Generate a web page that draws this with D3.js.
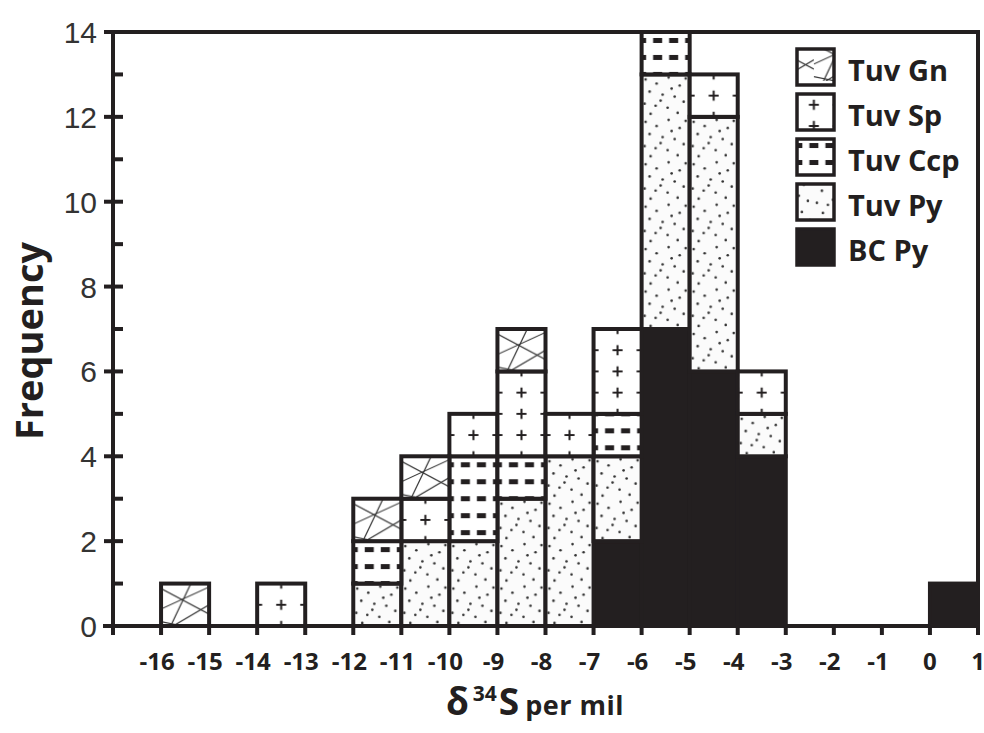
<!DOCTYPE html>
<meta charset="utf-8">
<style>
body { margin: 0; background: #fff; }
.lbl { font-family: "Open Sans", sans-serif; font-weight: 700; fill: #231f20; }
.ytick { font-family: "Liberation Sans", Arial, sans-serif; fill: #333; }
</style>
<body>
<script src="https://d3js.org/d3.v7.min.js"></script>
<script>

// bins start at these values (bin = [b, b+1])
var bins = [-16, -15, -14, -13, -12, -11, -10, -9, -8, -7, -6, -5, -4, -3, -2, -1, 0];
// counts per bin, stacked bottom to top
var bcPy   = [0, 0, 0, 0, 0, 0, 0, 0, 0, 2, 7, 6, 4, 0, 0, 0, 1];
var tuvPy  = [0, 0, 0, 0, 1, 2, 2, 3, 4, 2, 6, 6, 1, 0, 0, 0, 0];
var tuvCcp = [0, 0, 0, 0, 1, 0, 2, 1, 0, 1, 1, 0, 0, 0, 0, 0, 0];
var tuvSp  = [0, 0, 1, 0, 0, 1, 1, 2, 1, 2, 0, 1, 1, 0, 0, 0, 0];
var tuvGn  = [1, 0, 0, 0, 1, 1, 0, 1, 0, 0, 0, 0, 0, 0, 0, 0, 0];

var keys = ["BC Py", "Tuv Py", "Tuv Ccp", "Tuv Sp", "Tuv Gn"];
var legendOrder = ["Tuv Gn", "Tuv Sp", "Tuv Ccp", "Tuv Py", "BC Py"];
var xTicks = d3.range(-17, 2);
var xLabels = d3.range(-16, 2);
var yLabels = [0, 2, 4, 6, 8, 10, 12, 14];

var table = bins.map(function(b, i) {
  return {bin: b, "BC Py": bcPy[i], "Tuv Py": tuvPy[i], "Tuv Ccp": tuvCcp[i], "Tuv Sp": tuvSp[i], "Tuv Gn": tuvGn[i]};
});

var W = 984, H = 733, ink = "#231f20";
var x = d3.scaleLinear().domain([-17, 1]).range([113, 978]);
var y = d3.scaleLinear().domain([0, 14]).range([626, 32]);
var bw = x(1) - x(0), uh = y(0) - y(1);

var svg = d3.select("body").append("svg").attr("width", W).attr("height", H);
var defs = svg.append("defs");

// hatch patterns
var pGn = defs.append("pattern").attr("id", "gn").attr("patternUnits", "userSpaceOnUse")
  .attr("x", x(-17)).attr("y", y(0)).attr("width", bw).attr("height", uh);
pGn.append("rect").attr("width", bw).attr("height", uh).attr("fill", "#fff");
[[0, 0.12, 1, 0.72], [0, 0.6, 1, 0.08], [0.62, 0, 0.2, 1], [0.25, 1, 1, 0.5], [0, 0.9, 0.45, 1]].forEach(function(l) {
  pGn.append("line").attr("x1", l[0] * bw).attr("y1", l[1] * uh).attr("x2", l[2] * bw).attr("y2", l[3] * uh)
    .attr("stroke", "#333").attr("stroke-width", 1.2);
});

var sw = bw / 2, sh = uh / 2;
var pSp = defs.append("pattern").attr("id", "sp").attr("patternUnits", "userSpaceOnUse")
  .attr("x", x(-17) - sw / 2).attr("y", y(0) - sh / 2).attr("width", sw).attr("height", sh);
pSp.append("rect").attr("width", sw).attr("height", sh).attr("fill", "#fff");
pSp.append("path").attr("d", "M" + (sw / 2 - 5) + "," + (sh / 2) + "h10M" + (sw / 2) + "," + (sh / 2 - 5) + "v10")
  .attr("stroke", ink).attr("stroke-width", 2);

var cw = bw / 3, ch = uh * 0.4;
var pCcp = defs.append("pattern").attr("id", "ccp").attr("patternUnits", "userSpaceOnUse")
  .attr("x", x(-17) - cw / 2).attr("y", y(0) - ch).attr("width", cw).attr("height", ch);
pCcp.append("rect").attr("width", cw).attr("height", ch).attr("fill", "#fff");
pCcp.append("rect").attr("x", cw / 2 - 4.5).attr("y", ch / 2 - 2.5).attr("width", 9).attr("height", 5).attr("fill", ink);

var dots = [[4, 5], [15, 9], [27, 3], [38, 11], [44, 4], [8, 17], [21, 20], [33, 22], [42, 27],
            [3, 29], [14, 31], [26, 33], [36, 38], [9, 39], [19, 26], [30, 14]];
var pPy = defs.append("pattern").attr("id", "py").attr("patternUnits", "userSpaceOnUse")
  .attr("x", x(-17)).attr("y", y(0)).attr("width", bw).attr("height", uh);
pPy.append("rect").attr("width", bw).attr("height", uh).attr("fill", "#fbfbfb");
dots.forEach(function(d) {
  pPy.append("circle").attr("cx", d[0] * bw / 48).attr("cy", d[1] * uh / 42).attr("r", 1.3).attr("fill", "#333");
});

var fills = {"Tuv Gn": "url(#gn)", "Tuv Sp": "url(#sp)", "Tuv Ccp": "url(#ccp)", "Tuv Py": "url(#py)", "BC Py": ink};

// stacked bars
var series = d3.stack().keys(keys)(table);
svg.append("g").selectAll("g").data(series).enter().append("g")
  .attr("fill", function(s) { return fills[s.key]; })
  .selectAll("rect")
  .data(function(s) { return s.filter(function(d) { return d[1] > d[0]; }); })
  .enter().append("rect")
  .attr("x", function(d) { return x(d.data.bin); })
  .attr("y", function(d) { return y(d[1]); })
  .attr("width", bw)
  .attr("height", function(d) { return y(d[0]) - y(d[1]); })
  .attr("stroke", ink).attr("stroke-width", 4);

// frame and axes
var ax = svg.append("g").attr("stroke", ink).attr("stroke-width", 4).attr("fill", "none");
ax.append("path").attr("d", "M" + x(-17) + "," + y(14) + "H" + x(1) + "V" + y(0));
ax.append("path").attr("d", "M" + x(-17) + "," + y(14) + "V" + y(0) + "M" + (x(-17) - 10) + "," + y(0) + "H" + x(1));
yLabels.forEach(function(v) {
  ax.append("line").attr("x1", x(-17) - 9).attr("x2", x(-17) + 10).attr("y1", y(v)).attr("y2", y(v));
});
d3.range(1, 14, 2).forEach(function(v) {
  ax.append("line").attr("x1", x(-17)).attr("x2", x(-17) + 10).attr("y1", y(v)).attr("y2", y(v));
});
xTicks.forEach(function(v) {
  ax.append("line").attr("x1", x(v)).attr("x2", x(v)).attr("y1", y(0)).attr("y2", y(0) + 9);
});

// tick labels
svg.append("g").selectAll("text").data(yLabels).enter().append("text")
  .attr("class", "ytick").attr("x", 97).attr("y", function(d) { return y(d) + 11; })
  .attr("text-anchor", "end").attr("font-size", 30).text(function(d) { return d; });

svg.append("g").selectAll("text").data(xLabels).enter().append("text")
  .attr("class", "lbl").attr("x", function(d) { return x(d) + (d < 0 ? -4 : 0); }).attr("y", 670)
  .attr("text-anchor", "middle").attr("font-size", 24).text(function(d) { return d; });

// axis titles
svg.append("text").attr("class", "lbl").attr("font-size", 38)
  .attr("transform", "translate(43,341) rotate(-90)").attr("text-anchor", "middle").text("Frequency");

var t = svg.append("text").attr("class", "lbl").attr("x", 535).attr("y", 715).attr("text-anchor", "middle");
t.append("tspan").attr("font-size", 37).text("δ");
t.append("tspan").attr("font-size", 21).attr("dy", -14).attr("dx", 4).text("34");
t.append("tspan").attr("font-size", 37).attr("dy", 14).attr("dx", 2).text("S");
t.append("tspan").attr("font-size", 27).attr("dx", 6).attr("letter-spacing", 0.5).text("per mil");

// legend
var lg = svg.append("g").selectAll("g").data(legendOrder).enter().append("g")
  .attr("transform", function(d, i) { return "translate(797," + (49 + i * 45) + ")"; });
lg.append("rect").attr("width", 37).attr("height", 36)
  .attr("fill", function(d) { return fills[d]; }).attr("stroke", ink).attr("stroke-width", 3.5);
lg.append("text").attr("class", "lbl").attr("x", 51).attr("y", 32).attr("font-size", 29).text(function(d) { return d; });

</script>
</body>
